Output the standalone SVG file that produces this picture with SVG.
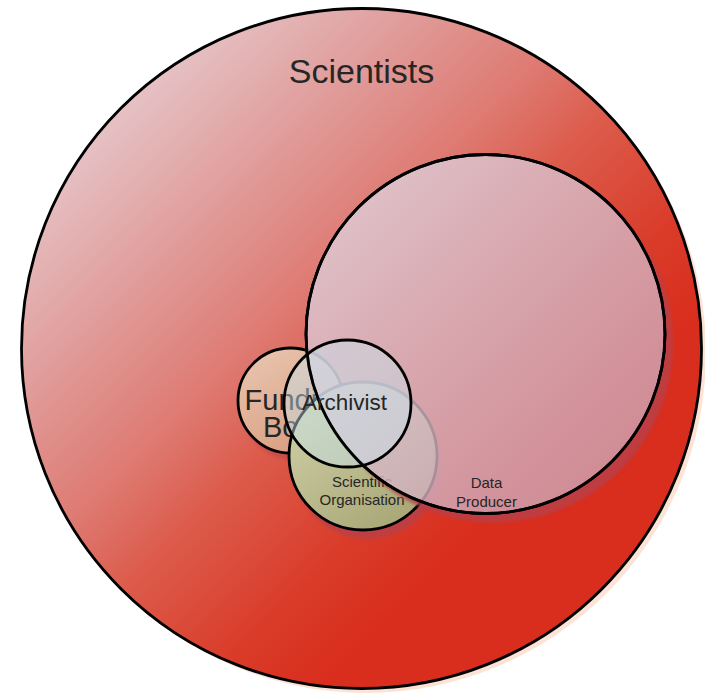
<svg xmlns="http://www.w3.org/2000/svg" xmlns:xlink="http://www.w3.org/1999/xlink" width="705" height="694" viewBox="0 0 705 694">
  <style>
    .outline { fill: none; stroke: #000; stroke-width: 2.8; }
    .label { font-family: "Liberation Sans", Arial, sans-serif; fill: #262626; text-anchor: middle; }
    .shadow { fill: #b84048; }
  </style>
  <defs>
    <linearGradient id="gSci" gradientUnits="userSpaceOnUse" x1="40" y1="30" x2="620" y2="620">
      <stop offset="0" stop-color="#ecd8dd"/>
      <stop offset="0.15" stop-color="#e5bec1"/>
      <stop offset="0.3" stop-color="#e09c9a"/>
      <stop offset="0.45" stop-color="#de7a72"/>
      <stop offset="0.55" stop-color="#dc5c4c"/>
      <stop offset="0.7" stop-color="#da3c2a"/>
      <stop offset="0.8" stop-color="#d92e1e"/>
      <stop offset="1" stop-color="#d92d1e"/>
    </linearGradient>
    <linearGradient id="gDP" gradientUnits="userSpaceOnUse" x1="330" y1="180" x2="640" y2="490">
      <stop offset="0" stop-color="#e0d2dd"/>
      <stop offset="1" stop-color="#cca0b0"/>
    </linearGradient>
    <linearGradient id="gFB" gradientUnits="userSpaceOnUse" x1="260" y1="350" x2="320" y2="455">
      <stop offset="0" stop-color="#e8c4ae"/>
      <stop offset="1" stop-color="#d89a7c"/>
    </linearGradient>
    <linearGradient id="gSO" gradientUnits="userSpaceOnUse" x1="300" y1="390" x2="400" y2="530">
      <stop offset="0" stop-color="#d2d2ac"/>
      <stop offset="1" stop-color="#a8a674"/>
    </linearGradient>
    <filter id="soft" x="-10%" y="-10%" width="120%" height="120%">
      <feGaussianBlur stdDeviation="1.5"/>
    </filter>
    <mask id="mDP" maskUnits="userSpaceOnUse" x="0" y="0" width="705" height="694">
      <rect width="705" height="694" fill="#fff"/>
      <circle cx="485.5" cy="334" r="179.5" fill="#000"/>
    </mask>
    <mask id="mSO" maskUnits="userSpaceOnUse" x="0" y="0" width="705" height="694">
      <rect width="705" height="694" fill="#fff"/>
      <circle cx="363" cy="456" r="74" fill="#000"/>
    </mask>
    <mask id="mFB" maskUnits="userSpaceOnUse" x="0" y="0" width="705" height="694">
      <rect width="705" height="694" fill="#fff"/>
      <circle cx="290.5" cy="400.5" r="52.5" fill="#000"/>
    </mask>
    <circle id="dpOutline" cx="485.5" cy="334" r="179.5" class="outline"/>
  </defs>

  <g id="scientists">
    <circle cx="366" cy="353" r="340" fill="#fbe3d6"/>
    <circle cx="361.5" cy="348.5" r="340" fill="url(#gSci)" stroke="#000" stroke-width="2.8"/>
    <text class="label" x="361.5" y="83" font-size="34">Scientists</text>
  </g>

  <g id="funding-body">
    <g mask="url(#mFB)"><circle class="shadow" cx="294.5" cy="407.5" r="52.5" opacity="0.5" filter="url(#soft)"/></g>
    <circle cx="290.5" cy="400.5" r="52.5" fill="url(#gFB)" stroke="#000" stroke-width="2.8"/>
    <text class="label" x="297" y="410" font-size="29">Funding</text>
    <text class="label" x="296" y="437" font-size="29">Body</text>
  </g>

  <g id="scientific-organisation">
    <g mask="url(#mSO)"><circle class="shadow" cx="368" cy="465" r="74" opacity="0.8" filter="url(#soft)"/></g>
    <circle cx="363" cy="456" r="74" fill="url(#gSO)" stroke="#000" stroke-width="2.8"/>
    <text class="label" x="362" y="487" font-size="15">Scientific</text>
    <text class="label" x="362" y="505" font-size="15">Organisation</text>
  </g>

  <g id="data-producer">
    <g mask="url(#mDP)"><circle class="shadow" cx="493.5" cy="343" r="179.5" opacity="0.8" filter="url(#soft)"/></g>
    <circle cx="485.5" cy="334" r="179.5" fill="url(#gDP)" fill-opacity="0.8"/>
    <use xlink:href="#dpOutline" href="#dpOutline"/>
    <text class="label" x="486.5" y="488" font-size="15">Data</text>
    <text class="label" x="486.5" y="506.5" font-size="15">Producer</text>
  </g>

  <g id="archivist">
    <circle cx="347.5" cy="403.5" r="63.5" fill="#c8e4f0" fill-opacity="0.45"/>
    <use xlink:href="#dpOutline" href="#dpOutline"/>
    <circle class="outline" cx="347.5" cy="403.5" r="63.5"/>
    <text class="label" x="344.5" y="410" font-size="22.5">Archivist</text>
  </g>

  <g id="connectors"></g>
</svg>
